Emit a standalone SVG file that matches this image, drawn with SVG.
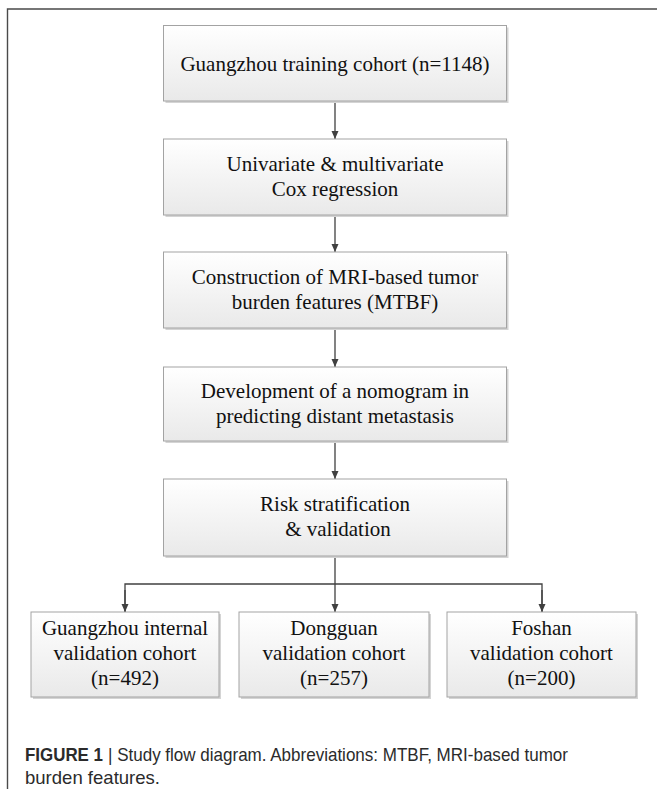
<svg xmlns="http://www.w3.org/2000/svg" width="657" height="789" viewBox="0 0 657 789">
<defs>
<linearGradient id="g" x1="0" y1="0" x2="0" y2="1">
<stop offset="0" stop-color="#ffffff"/>
<stop offset="1" stop-color="#e9e9e9"/>
</linearGradient>
<marker id="ah" markerUnits="userSpaceOnUse" markerWidth="9" markerHeight="8" refX="8" refY="3.5" orient="auto">
<path d="M0,0 L8,3.5 L0,7 z" fill="#404040"/>
</marker>
</defs>
<style>
.sh{fill:#d4d4d4}
.bx{fill:url(#g);stroke:#a3a3a3;stroke-width:1}
.t{font-family:"Liberation Serif","Times New Roman",serif;font-size:21px;fill:#111111;text-anchor:middle}
.c{fill:none;stroke:#404040;stroke-width:1.3}
.cap{font-family:"Liberation Sans Narrow","Liberation Sans",Arial,sans-serif;font-size:19px;fill:#2b2b2b}
.frame{fill:none;stroke:#4a4a4a;stroke-width:1.4}
</style>
<rect width="657" height="789" fill="#ffffff"/>
<path class="frame" d="M7.5,789 L7.5,9 L657,9"/>
<g id="connectors">
<line class="c" x1="335" y1="101" x2="335" y2="139" marker-end="url(#ah)"/>
<line class="c" x1="335" y1="215" x2="335" y2="252" marker-end="url(#ah)"/>
<line class="c" x1="335" y1="328" x2="335" y2="367" marker-end="url(#ah)"/>
<line class="c" x1="335" y1="441" x2="335" y2="479" marker-end="url(#ah)"/>
<line class="c" x1="335" y1="556" x2="335" y2="612" marker-end="url(#ah)"/>
<path class="c" d="M125,612 L125,584 L542,584 L542,612"/>
<line class="c" x1="125" y1="590" x2="125" y2="612" marker-end="url(#ah)"/>
<line class="c" x1="542" y1="590" x2="542" y2="612" marker-end="url(#ah)"/>
</g>
<g id="n1">
<rect class="sh" x="165.5" y="27.5" width="343" height="75.5"/>
<rect class="bx" x="163.5" y="25.5" width="343" height="75.5"/>
<text class="t" x="335" y="71">Guangzhou training cohort (n=1148)</text>
</g>
<g id="n2">
<rect class="sh" x="165.5" y="141" width="343" height="76"/>
<rect class="bx" x="163.5" y="139" width="343" height="76"/>
<text class="t" x="335" y="171">Univariate &amp; multivariate</text>
<text class="t" x="335" y="196">Cox regression</text>
</g>
<g id="n3">
<rect class="sh" x="165.5" y="254" width="343" height="76"/>
<rect class="bx" x="163.5" y="252" width="343" height="76"/>
<text class="t" x="335" y="284">Construction of MRI-based tumor</text>
<text class="t" x="335" y="309">burden features (MTBF)</text>
</g>
<g id="n4">
<rect class="sh" x="165.5" y="369" width="343" height="74"/>
<rect class="bx" x="163.5" y="367" width="343" height="74"/>
<text class="t" x="335" y="398">Development of a nomogram in</text>
<text class="t" x="335" y="423">predicting distant metastasis</text>
</g>
<g id="n5">
<rect class="sh" x="165.5" y="481" width="343" height="77"/>
<rect class="bx" x="163.5" y="479" width="343" height="77"/>
<text class="t" x="335" y="511">Risk stratification</text>
<text class="t" x="338" y="536">&amp; validation</text>
</g>
<g id="n6">
<rect class="sh" x="33" y="614" width="188" height="85"/>
<rect class="bx" x="31" y="612" width="188" height="85"/>
<text class="t" x="125" y="635">Guangzhou internal</text>
<text class="t" x="125" y="660">validation cohort</text>
<text class="t" x="125" y="685">(n=492)</text>
</g>
<g id="n7">
<rect class="sh" x="241" y="614" width="190" height="85"/>
<rect class="bx" x="239" y="612" width="190" height="85"/>
<text class="t" x="334" y="635">Dongguan</text>
<text class="t" x="334" y="660">validation cohort</text>
<text class="t" x="334" y="685">(n=257)</text>
</g>
<g id="n8">
<rect class="sh" x="449" y="614" width="189" height="85"/>
<rect class="bx" x="447" y="612" width="189" height="85"/>
<text class="t" x="541.5" y="635">Foshan</text>
<text class="t" x="541.5" y="660">validation cohort</text>
<text class="t" x="541.5" y="685">(n=200)</text>
</g>
<g id="caption">
<text class="cap" x="25" y="761" font-weight="bold" textLength="78" lengthAdjust="spacingAndGlyphs">FIGURE 1</text>
<text class="cap" x="108" y="761" textLength="460" lengthAdjust="spacingAndGlyphs">| Study flow diagram. Abbreviations: MTBF, MRI-based tumor</text>
<text class="cap" x="25" y="784" textLength="135" lengthAdjust="spacingAndGlyphs">burden features.</text>
</g>
</svg>
